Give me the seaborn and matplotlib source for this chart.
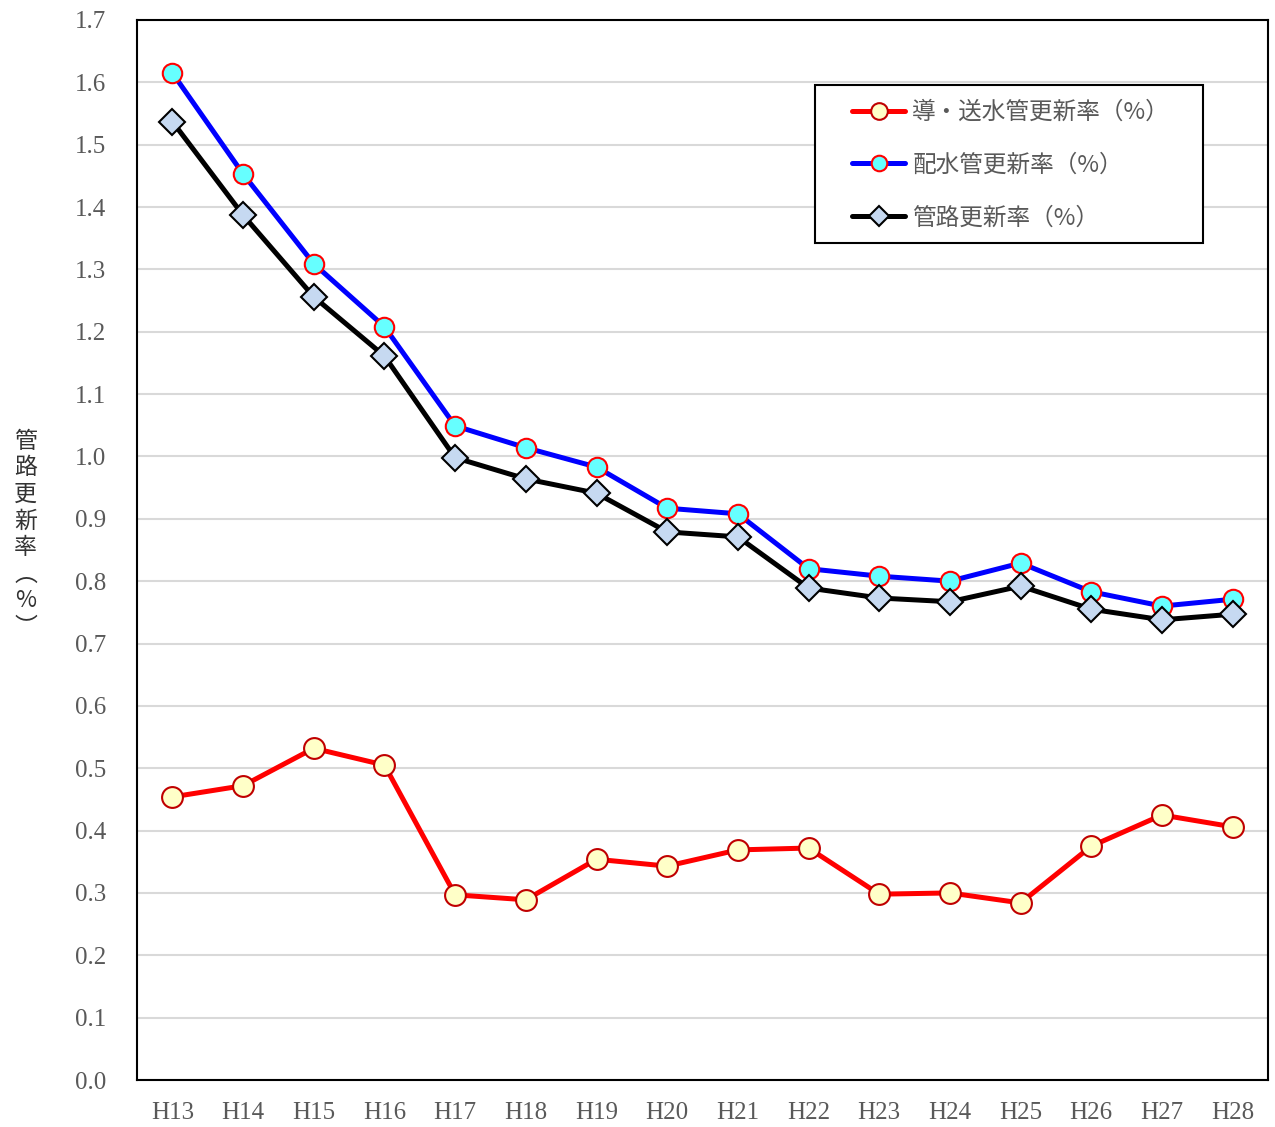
import numpy as np
import pandas as pd
import seaborn as sns
import matplotlib.pyplot as plt
from matplotlib.patches import Rectangle

# データ
years = ["H13", "H14", "H15", "H16", "H17", "H18", "H19", "H20",
         "H21", "H22", "H23", "H24", "H25", "H26", "H27", "H28"]
dousou = [0.454, 0.472, 0.532, 0.505, 0.297, 0.289, 0.354, 0.343,
          0.369, 0.372, 0.298, 0.300, 0.284, 0.375, 0.425, 0.406]
haisui = [1.615, 1.453, 1.309, 1.208, 1.049, 1.014, 0.983, 0.917,
          0.908, 0.820, 0.808, 0.800, 0.829, 0.783, 0.760, 0.771]
kanro = [1.537, 1.387, 1.256, 1.161, 0.998, 0.964, 0.941, 0.879,
         0.871, 0.789, 0.773, 0.767, 0.792, 0.755, 0.738, 0.747]
labels = ["導・送水管更新率（%）", "配水管更新率（%）", "管路更新率（%）"]

df = pd.DataFrame({"x": np.arange(len(years)), "dousou": dousou,
                   "haisui": haisui, "kanro": kanro})

sns.set_style("white")
plt.rcParams['font.family'] = ['Noto Sans CJK JP', 'DejaVu Sans']

fig = plt.figure(figsize=(12.75, 11.27), dpi=100)
ax = fig.add_axes([0.1075, 0.0417, 0.887, 0.9406])

sns.lineplot(x="x", y="dousou", data=df, ax=ax, color="#FF0000", linewidth=3.6,
             marker="o", markersize=15, markerfacecolor="#FFFFC8",
             markeredgecolor="#C00000", markeredgewidth=1.5, label=labels[0])
sns.lineplot(x="x", y="haisui", data=df, ax=ax, color="#0000FF", linewidth=3.6,
             marker="o", markersize=14, markerfacecolor="#66FFFF",
             markeredgecolor="#FF0000", markeredgewidth=1.5, label=labels[1])
sns.lineplot(x="x", y="kanro", data=df, ax=ax, color="#000000", linewidth=3.6,
             marker="D", markersize=13, markerfacecolor="#C6D9F1",
             markeredgecolor="#000000", markeredgewidth=1.5, label=labels[2])

ax.set_xlim(-0.5, len(years) - 0.5)
ax.set_ylim(0, 1.7)
ax.set_yticks(np.arange(0, 1.71, 0.1))
ax.set_yticklabels([f"{v:.1f}" for v in np.arange(0, 1.71, 0.1)],
                   family="Liberation Serif", fontsize=18, color="#595959")
ax.set_xticks(df["x"])
ax.set_xticklabels(years, family="Liberation Serif", fontsize=18, color="#595959")
ax.tick_params(axis="y", length=0, pad=22)
ax.tick_params(axis="x", length=0, pad=16)
ax.yaxis.grid(True, color="#D9D9D9", linewidth=1.5)
ax.set_axisbelow(True)
for s in ax.spines.values():
    s.set_color("black")
    s.set_linewidth(1.5)
ax.set_xlabel("")
ax.set_ylabel("")

fig.text(0.020, 0.526, "管\n路\n更\n新\n率\n︵\n%\n︶", ha="center", va="center",
         fontsize=16.5, color="#333333", linespacing=1.2)

# 凡例の枠
ax.add_patch(Rectangle((0.5995, 0.7896), 0.343, 0.1491, transform=ax.transAxes,
                       facecolor="white", edgecolor="black", linewidth=1.5,
                       zorder=4))
leg = ax.legend(loc="upper left", bbox_to_anchor=(0.6322, 0.9236), frameon=False,
                fontsize=17, labelspacing=1.26, handlelength=2.25,
                handletextpad=0.3, borderpad=0, borderaxespad=0,
                markerscale=0.8)
leg.set_zorder(5)
for t in leg.get_texts():
    t.set_color("#595959")

fig.savefig("out.png", dpi=100)
